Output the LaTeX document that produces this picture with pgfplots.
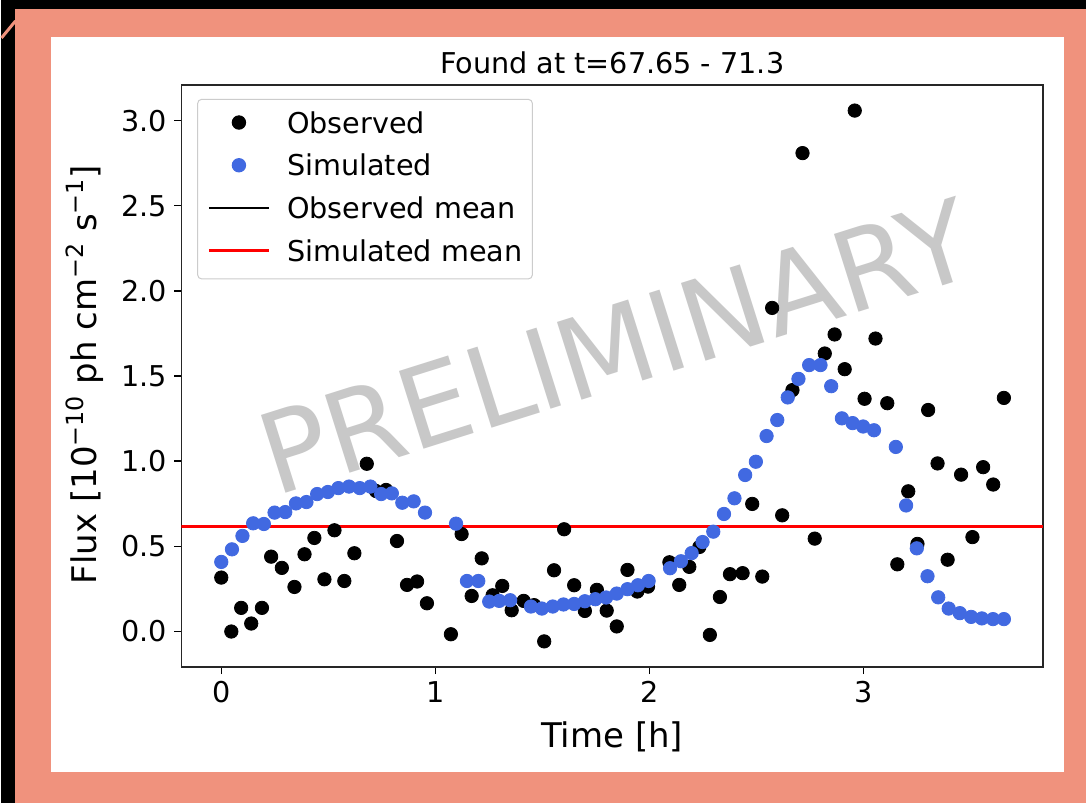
\documentclass[border=0pt]{standalone}
\usepackage{fontspec}
\setmainfont{DejaVu Sans}
\usepackage{pgfplots}
\pgfplotsset{compat=1.18}
\definecolor{salmon}{RGB}{240,146,125}
\definecolor{royal}{RGB}{65,105,225}
\definecolor{wm}{RGB}{200,200,200}
\definecolor{legframe}{RGB}{204,204,204}
\begin{document}
\begin{tikzpicture}[x=0.5pt,y=0.5pt]
\fill[black] (0,0) rectangle (1086,804);
\fill[salmon] (14,0) rectangle (1086,795);
\draw[salmon, line width=1.5pt] (0,766) -- (14,783);
\fill[white] (50,31) rectangle (1064,767);
\node[wm, rotate=17.5, inner sep=0pt, font=\fontsize{56}{62}\selectfont] at (615,457) {PRELIMINARY};
\begin{axis}[
  at={(90pt,68pt)}, anchor=south west,
  width=431.5pt, height=291.5pt, scale only axis,
  xmin=-0.187, xmax=3.84, ymin=-0.211, ymax=3.211,
  xtick={0,1,2,3}, ytick={0,0.5,1,1.5,2,2.5,3},
  yticklabel style={/pgf/number format/fixed, /pgf/number format/fixed zerofill, /pgf/number format/precision=1},
  /pgf/number format/assume math mode=true,
  tick label style={font=\fontsize{14.35}{17}\selectfont},
  tick align=outside, major tick length=3.5pt,
  tick style={black, line width=0.6pt},
  tick pos=left,
  axis line style={line width=0.7pt, black!85},
  legend cell align=left,
  legend style={at={(0.0185,0.976)}, anchor=north west,
    draw=legframe, rounded corners=2pt, line width=0.5pt, fill=white,
    inner xsep=5pt, inner ysep=6.35pt, row sep=8.4pt,
    font=\fontsize{14.35}{17}\selectfont,
    nodes={inner sep=0pt, text height=10.5pt, text depth=2.5pt}},
  legend image code/.code={\path (0pt,0pt) (38.5pt,0pt);
    \draw[mark repeat=2,mark phase=2,#1] plot coordinates {(0pt,1.25pt) (15pt,1.25pt) (30pt,1.25pt)};},
]
\addplot[only marks, mark=*, mark size=3.35pt, black] coordinates {
(0.000,0.315) (0.047,-0.002) (0.093,0.137) (0.140,0.045) (0.190,0.137) (0.233,0.438) (0.283,0.372) (0.342,0.260) (0.389,0.452) (0.435,0.548) (0.482,0.305) (0.529,0.593) (0.575,0.295) (0.622,0.458) (0.680,0.984) (0.723,0.824) (0.770,0.830) (0.821,0.530) (0.868,0.272) (0.915,0.292) (0.961,0.164) (1.073,-0.018) (1.123,0.571) (1.170,0.207) (1.217,0.428) (1.268,0.211) (1.313,0.266) (1.357,0.123) (1.413,0.178) (1.462,0.153) (1.509,-0.060) (1.555,0.358) (1.602,0.599) (1.649,0.270) (1.699,0.119) (1.755,0.243) (1.801,0.121) (1.848,0.028) (1.898,0.360) (1.944,0.233) (1.994,0.262) (2.094,0.405) (2.140,0.272) (2.187,0.378) (2.234,0.495) (2.283,-0.022) (2.330,0.201) (2.377,0.335) (2.436,0.341) (2.481,0.748) (2.528,0.321) (2.574,1.900) (2.621,0.681) (2.669,1.417) (2.716,2.810) (2.773,0.544) (2.820,1.632) (2.866,1.744) (2.913,1.540) (2.960,3.060) (3.006,1.366) (3.057,1.720) (3.112,1.340) (3.159,0.393) (3.210,0.822) (3.253,0.513) (3.303,1.300) (3.347,0.986) (3.394,0.420) (3.457,0.920) (3.510,0.553) (3.560,0.964) (3.607,0.862) (3.657,1.371)
};
\addplot[only marks, mark=*, mark size=3.35pt, color=royal] coordinates {
(0.000,0.407) (0.050,0.481) (0.099,0.560) (0.149,0.634) (0.199,0.630) (0.249,0.697) (0.299,0.700) (0.349,0.751) (0.398,0.759) (0.448,0.806) (0.498,0.818) (0.547,0.841) (0.597,0.850) (0.647,0.841) (0.697,0.850) (0.747,0.806) (0.797,0.810) (0.846,0.755) (0.899,0.763) (0.952,0.697) (1.097,0.632) (1.148,0.295) (1.201,0.295) (1.252,0.174) (1.299,0.178) (1.350,0.182) (1.447,0.145) (1.498,0.133) (1.549,0.145) (1.599,0.157) (1.649,0.160) (1.699,0.176) (1.748,0.188) (1.798,0.198) (1.848,0.221) (1.898,0.247) (1.947,0.270) (1.997,0.295) (2.097,0.370) (2.148,0.411) (2.198,0.459) (2.249,0.524) (2.299,0.585) (2.349,0.689) (2.398,0.781) (2.448,0.918) (2.498,0.996) (2.548,1.147) (2.598,1.241) (2.647,1.374) (2.697,1.483) (2.747,1.564) (2.800,1.564) (2.850,1.440) (2.900,1.251) (2.950,1.223) (2.999,1.203) (3.050,1.181) (3.152,1.083) (3.200,0.739) (3.250,0.487) (3.300,0.323) (3.350,0.199) (3.399,0.133) (3.451,0.106) (3.504,0.084) (3.554,0.075) (3.606,0.071) (3.657,0.071)
};
\addplot[black, line width=1.3pt] coordinates {(-0.187,0.615) (3.84,0.615)};
\addplot[red, line width=1.3pt] coordinates {(-0.187,0.615) (3.84,0.615)};
\legend{Observed, Simulated, Observed mean, Simulated mean}
\end{axis}
\node[anchor=base, inner sep=0pt, font=\fontsize{14.35}{17}\selectfont] at (611.5,730) {Found at t=67.65 - 71.3};
\node[anchor=base, inner sep=0pt, font=\fontsize{17}{20}\selectfont] at (611.5,55.5) {Time [h]};
\node[anchor=base, rotate=90, inner sep=0pt, font=\fontsize{17}{20}\selectfont] at (95,429) {Flux [10\textsuperscript{−10} ph cm\textsuperscript{−2} s\textsuperscript{−1}]};
\end{tikzpicture}
\end{document}
